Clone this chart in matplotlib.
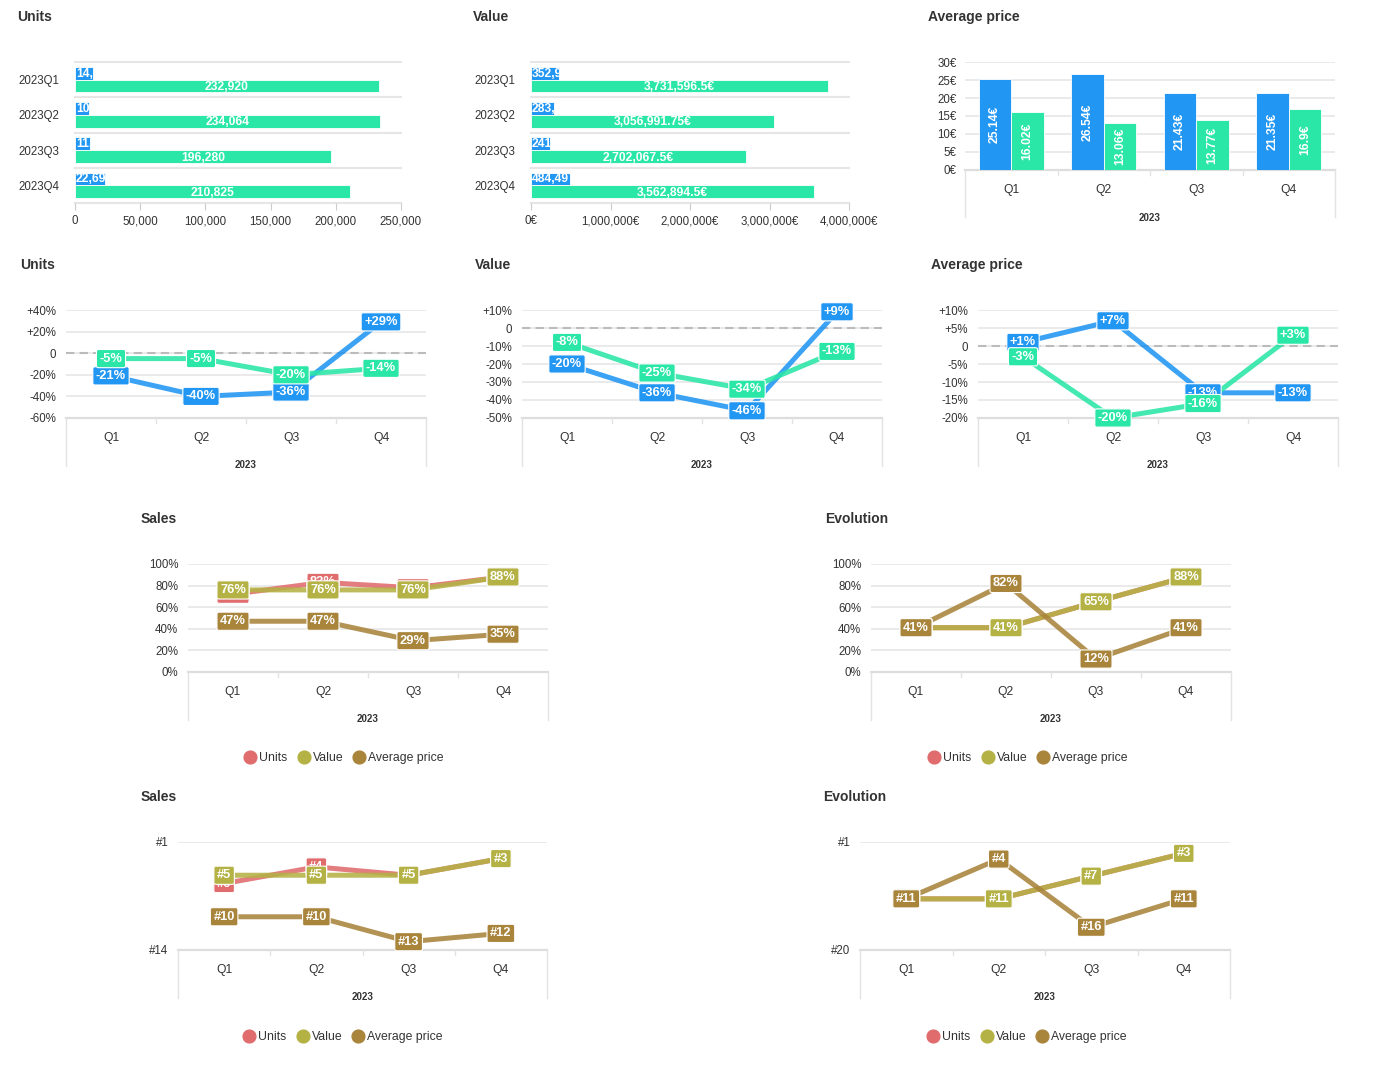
import matplotlib.pyplot as plt
from matplotlib.lines import Line2D
from matplotlib.transforms import Bbox, TransformedBbox, offset_copy

plt.rcParams['font.family'] = ['Liberation Sans', 'DejaVu Sans']

W, H = 1388, 1080

# data
quarters = ['Q1', 'Q2', 'Q3', 'Q4']
periods = ['2023Q1', '2023Q2', '2023Q3', '2023Q4']
year = '2023'

units_prev = [14025, 10512, 11230, 22694]
units_curr = [232920, 234064, 196280, 210825]
value_prev = [352947.5, 283412.25, 241380.0, 484497.0]
value_curr = [3731596.5, 3056991.75, 2702067.5, 3562894.5]
price_prev = [25.14, 26.54, 21.43, 21.35]
price_curr = [16.02, 13.06, 13.77, 16.9]

units_var_a = [-21, -40, -36, 29]
units_var_b = [-5, -5, -20, -14]
value_var_a = [-20, -36, -46, 9]
value_var_b = [-8, -25, -34, -13]
price_var_a = [1, 7, -13, -13]
price_var_b = [-3, -20, -16, 3]

sales_units = [72, 83, 78, 88]
sales_value = [76, 76, 76, 88]
sales_price = [47, 47, 29, 35]
evol_units = [41, 41, 65, 88]
evol_value = [41, 41, 65, 88]
evol_price = [41, 82, 12, 41]

rank_sales_units = [6, 4, 5, 3]
rank_sales_value = [5, 5, 5, 3]
rank_sales_price = [10, 10, 13, 12]
rank_evol_units = [11, 11, 7, 3]
rank_evol_value = [11, 11, 7, 3]
rank_evol_price = [11, 4, 16, 11]

legend_names = ['Units', 'Value', 'Average price']

BLUE = '#2196f3'
GREEN = '#2ae6a7'
RED = '#e06c6e'
OLIVE = '#b4b244'
BROWN = '#a9843b'
GRID = '#e6e6e6'
TXT = '#333333'

fig = plt.figure(figsize=(W / 100, H / 100), dpi=100)


def add_ax(x0, y0, x1, y1):
    ax = fig.add_axes([x0 / W, 1 - y1 / H, (x1 - x0) / W, (y1 - y0) / H])
    for s in ax.spines.values():
        s.set_visible(False)
    ax.set_facecolor('none')
    ax.tick_params(length=0, labelsize=8.3, colors=TXT)
    return ax


def title(x, y, s):
    fig.text(x / W, 1 - y / H, s, fontsize=10, fontweight='bold', color=TXT,
             ha='left', va='center')


def quarter_axis(ax, h, q_off=20, year_off=47, depth=48):
    # two level category axis: quarters then year
    ax.set_xlim(-0.5, 3.5)
    ax.set_xticks([])
    tr = ax.get_xaxis_transform()
    ax.plot([-0.5, 3.5], [0, 0], transform=tr, color='#dddddd', lw=1.6,
            clip_on=False, zorder=1)
    for i, xs in enumerate([-0.5, 0.5, 1.5, 2.5, 3.5]):
        d = depth if i in (0, 4) else 5
        ax.plot([xs, xs], [0, -d / h], transform=tr, color='#e3e3e3', lw=1,
                clip_on=False)
    for i, q in enumerate(quarters):
        ax.text(i, -q_off / h, q, transform=tr, ha='center', va='center',
                fontsize=8.7, color=TXT)
    ax.text(1.5, -year_off / h, year, transform=tr, ha='center', va='center',
            fontsize=7, fontweight='bold', color=TXT)


def hbar_chart(box, prev, curr, ticks, ticklabels, fmt):
    ax = add_ax(*box)
    ypos = list(range(4))
    ax.barh([y - 0.18 for y in ypos], prev, height=0.36, color=BLUE,
            ec='white', lw=0.6, zorder=2)
    ax.barh([y + 0.18 for y in ypos], curr, height=0.36, color=GREEN,
            ec='white', lw=0.6, zorder=2)
    ax.set_ylim(3.5, -0.5)
    ax.set_xlim(0, ticks[-1])
    for e in [-0.5, 0.5, 1.5, 2.5, 3.5]:
        ax.axhline(e, color=GRID, lw=1.5, zorder=0, clip_on=False)
    ax.set_xticks(ticks, ticklabels)
    ax.tick_params(axis='x', length=5, color='#cccccc', pad=4, direction='out')
    ax.set_yticks(ypos, periods)
    ax.tick_params(axis='y', pad=11)
    shift = offset_copy(ax.transData, fig=fig, x=1, y=0, units='dots')
    for y, v in zip(ypos, prev):
        t = ax.text(0, y - 0.17, fmt(v), transform=shift, ha='left', va='center',
                    color='white', fontweight='bold', fontsize=8.7, zorder=4)
        t.set_clip_box(TransformedBbox(Bbox([[0, y - 0.36], [v, y]]), ax.transData))
        t.set_clip_on(True)
    for y, v in zip(ypos, curr):
        ax.text(v / 2, y + 0.21, fmt(v), ha='center', va='center',
                color='white', fontweight='bold', fontsize=8.7, zorder=4)
    return ax


def line_chart(box, series, colors, ylim, yticks, yticklabels, fmt,
               zero_line=False, grid_ticks=None):
    ax = add_ax(*box)
    h = box[3] - box[1]
    ax.set_ylim(*ylim)
    ax.set_yticks(yticks, yticklabels)
    ax.tick_params(axis='y', pad=7)
    quarter_axis(ax, h)
    for t in (grid_ticks if grid_ticks is not None else yticks):
        if t != ylim[0]:
            ax.axhline(t, color=GRID, lw=1.2, zorder=0)
    if zero_line:
        ax.axhline(0, color='#bbbbbb', lw=1.5, dashes=(4, 2.5), zorder=1)
    x = range(4)
    for k, (vals, c) in enumerate(zip(series, colors)):
        ax.plot(x, vals, color=c, lw=3.6, alpha=0.88, zorder=3 + k,
                solid_capstyle='butt', clip_on=False)
    for k, (vals, c) in enumerate(zip(series, colors)):
        for i, v in zip(x, vals):
            ax.text(i, v, fmt(v), ha='center', va='center', color='white',
                    fontweight='bold', fontsize=9.3, zorder=10 + k,
                    bbox=dict(boxstyle='round,pad=0.24,rounding_size=0.15',
                              fc=c, ec='white', lw=0.8))
    return ax


def legend(cx, cy):
    handles = [Line2D([], [], ls='none', marker='o', ms=9.2, mfc=c, mec=c, label=n)
               for n, c in zip(legend_names, [RED, OLIVE, BROWN])]
    fig.legend(handles=handles, loc='center', bbox_to_anchor=(cx / W, 1 - cy / H),
               ncol=3, frameon=False, fontsize=8.8, handlelength=1.0,
               handletextpad=0.25, columnspacing=0.8, labelcolor=TXT,
               borderaxespad=0, borderpad=0)


def var_label(v):
    return f'{v:+d}%'


def var_tick(t):
    return '0' if t == 0 else f'{t:+d}%'


# row 1: absolute values
title(17, 17, 'Units')
hbar_chart((75, 62, 401, 203), units_prev, units_curr,
           [0, 50000, 100000, 150000, 200000, 250000],
           ['0', '50,000', '100,000', '150,000', '200,000', '250,000'],
           lambda v: f'{v:,}')

title(473, 17, 'Value')
hbar_chart((531, 62, 849, 203), value_prev, value_curr,
           [0, 1000000, 2000000, 3000000, 4000000],
           ['0€', '1,000,000€', '2,000,000€', '3,000,000€', '4,000,000€'],
           lambda v: f'{v:,.2f}'.rstrip('0').rstrip('.') + '€')

title(928, 17, 'Average price')
ax = add_ax(965, 62, 1335, 170)
xq = range(4)
ax.bar([i - 0.175 for i in xq], price_prev, width=0.35, color=BLUE, ec='white', lw=0.6, zorder=2)
ax.bar([i + 0.175 for i in xq], price_curr, width=0.35, color=GREEN, ec='white', lw=0.6, zorder=2)
ax.set_ylim(0, 30)
ax.set_yticks(range(0, 31, 5), [f'{t}€' for t in range(0, 31, 5)])
ax.tick_params(axis='y', pad=6)
for t in range(5, 31, 5):
    ax.axhline(t, color=GRID, lw=1.2, zorder=0)
quarter_axis(ax, 108, q_off=20, year_off=48, depth=47)
for i in xq:
    for off, v in [(-0.175, price_prev[i]), (0.175, price_curr[i])]:
        ax.text(i + off, v / 2, f'{v:g}€', rotation=90, ha='center', va='center',
                color='white', fontweight='bold', fontsize=8.7, zorder=4)

# row 2: variations
title(20, 265, 'Units')
line_chart((66, 310, 426, 418), [units_var_a, units_var_b], [BLUE, GREEN],
           (-60, 40), list(range(-60, 41, 20)), [var_tick(t) for t in range(-60, 41, 20)],
           var_label, zero_line=True)

title(475, 265, 'Value')
line_chart((522, 310, 882, 418), [value_var_a, value_var_b], [BLUE, GREEN],
           (-50, 10), list(range(-50, 11, 10)), [var_tick(t) for t in range(-50, 11, 10)],
           var_label, zero_line=True)

title(931, 265, 'Average price')
line_chart((978, 310, 1338, 418), [price_var_a, price_var_b], [BLUE, GREEN],
           (-20, 10), list(range(-20, 11, 5)), [var_tick(t) for t in range(-20, 11, 5)],
           var_label, zero_line=True)

# row 3: shares
pct_ticks = list(range(0, 101, 20))
title(141, 519, 'Sales')
line_chart((188, 564, 548, 672), [sales_units, sales_value, sales_price], [RED, OLIVE, BROWN],
           (0, 100), pct_ticks, [f'{t}%' for t in pct_ticks], lambda v: f'{v}%')
legend(344, 758)

title(825, 519, 'Evolution')
line_chart((871, 564, 1231, 672), [evol_units, evol_value, evol_price], [RED, OLIVE, BROWN],
           (0, 100), pct_ticks, [f'{t}%' for t in pct_ticks], lambda v: f'{v}%')
legend(1028, 758)

# row 4: rankings
title(141, 797, 'Sales')
line_chart((178, 842, 547, 950), [rank_sales_units, rank_sales_value, rank_sales_price],
           [RED, OLIVE, BROWN], (14, 1), [1, 14], ['#1', '#14'], lambda v: f'#{v}',
           grid_ticks=[1])
legend(343, 1037)

title(823, 797, 'Evolution')
line_chart((860, 842, 1230, 950), [rank_evol_units, rank_evol_value, rank_evol_price],
           [RED, OLIVE, BROWN], (20, 1), [1, 20], ['#1', '#20'], lambda v: f'#{v}',
           grid_ticks=[1])
legend(1027, 1037)

fig.savefig('out.png', dpi=100, facecolor='white')
